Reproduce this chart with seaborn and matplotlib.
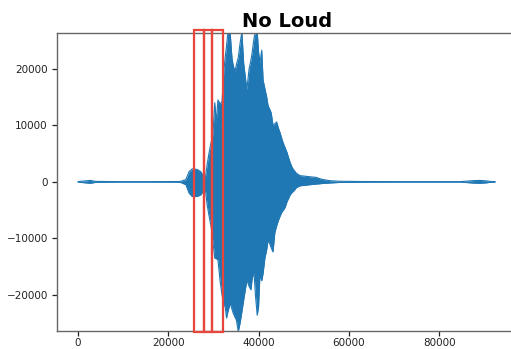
import numpy as np
import pandas as pd
import matplotlib
matplotlib.use("Agg")
import matplotlib.pyplot as plt
import seaborn as sns
from matplotlib.patches import Rectangle

# Envelope of the waveform (sample index, amplitude)
x_env = [0, 1300, 2700, 4000, 9300, 16000, 22600, 23900, 24600, 25300,
         26400, 27200, 27900, 28200, 28600, 29000, 29500, 29900, 30300, 30600,
         31000, 31500, 31900, 32300, 32600, 32900, 33200, 33700, 34100, 34400,
         34800, 35100, 35500, 35900, 36300, 36700, 37400, 37900, 38300, 38600,
         39000, 39300, 39700, 40000, 40300, 40700, 41000, 41400, 41800, 42100,
         42500, 42800, 43200, 43600, 44000, 44400, 44800, 45200, 45500, 45900,
         46300, 46600, 47000, 47400, 47800, 48400, 49200, 51400, 52700, 54000,
         55800, 58000, 62500, 71300, 84600, 87700, 89000, 90400, 91300, 92400]
upper = [40, 150, 250, 80, 40, 40, 60, 400, 1800, 2300,
         2200, 1800, 900, 600, 3000, 5000, 7000, 8600, 14000, 10500,
         14500, 13800, 14200, 19600, 22000, 24000, 26500, 26500, 22000, 20500,
         19600, 20800, 22000, 24500, 26500, 21000, 16300, 20000, 21500, 23000,
         25500, 26500, 26500, 23000, 21000, 23300, 18000, 16500, 15000, 13500,
         12800, 12200, 10000, 10300, 10600, 9500, 8600, 7500, 6800, 6000,
         5200, 4400, 3400, 2600, 2100, 1500, 1100, 900, 800, 450,
         200, 100, 60, 40, 40, 220, 250, 180, 80, 40]
lower = [-40, -150, -250, -80, -40, -40, -60, -500, -2000, -2600,
         -2600, -2300, -1500, -1200, -4000, -5900, -8000, -10700, -13500, -13600,
         -13800, -17700, -20000, -21800, -22100, -24100, -23000, -21500, -22500, -23300,
         -24000, -24500, -26500, -25000, -23000, -20900, -17400, -18500, -19100, -17000,
         -16100, -20000, -23600, -22100, -16500, -17500, -16200, -13500, -12000, -10300,
         -11000, -11700, -12400, -9000, -7800, -6800, -6000, -5300, -5000, -4500,
         -3500, -3000, -2300, -1900, -1600, -1000, -700, -500, -400, -300,
         -200, -100, -60, -40, -40, -220, -250, -180, -80, -40]

# Analysis windows (red boxes), in samples
win_edges = [25700, 28000, 29700, 32050]

x_ticks = [0, 20000, 40000, 60000, 80000]
y_ticks = [-20000, -10000, 0, 10000, 20000]

sns.set_style("ticks")
plt.rcParams["font.family"] = ["DejaVu Sans"]

df = pd.DataFrame({"sample": x_env, "upper": upper, "lower": lower})

fig = plt.figure(figsize=(5.11, 3.49), dpi=100)
ax = fig.add_axes([0.1125, 0.0516, 0.8986, 0.8547])

blue = "#1f77b4"
ax.fill_between(df["sample"], df["lower"], df["upper"], color=blue, lw=0)
sns.lineplot(data=df, x="sample", y="upper", ax=ax, color=blue, lw=0.8)
sns.lineplot(data=df, x="sample", y="lower", ax=ax, color=blue, lw=0.8)

# Red windows
for a, b in zip(win_edges[:-1], win_edges[1:]):
    ax.add_patch(Rectangle((a, -26500), b - a, 53350, fill=False,
                           edgecolor="#e8453c", lw=1.6, clip_on=False, zorder=5))

ax.set_xlim(-4540, 97170)
ax.set_ylim(-26400, 26400)
ax.set_xticks(x_ticks)
ax.set_yticks(y_ticks)
ax.set_xlabel("")
ax.set_ylabel("")
ax.tick_params(labelsize=7.5, colors="#222222", length=3.5, width=0.9)
ax.tick_params(axis="x", pad=1.5)
for s in ax.spines.values():
    s.set_color("#666666")
    s.set_linewidth(1.0)

ax.set_title("No Loud", fontsize=14, fontweight="bold", pad=4, color="black")

fig.savefig("out.png", dpi=100)
